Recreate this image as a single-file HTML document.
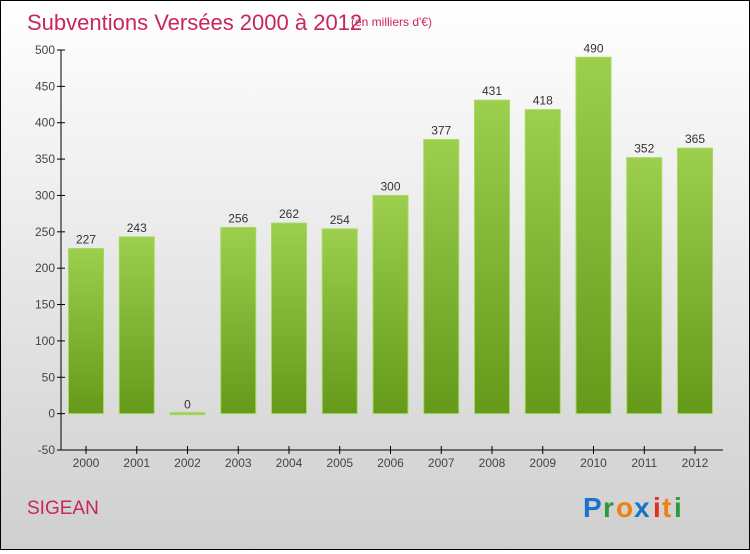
<!DOCTYPE html>
<html><head><meta charset="utf-8"><style>
body{margin:0;width:750px;height:550px;overflow:hidden}
#c{position:relative;width:748px;height:548px;border:1px solid #000;background:linear-gradient(#fff,#cfcfcf)}
text{font-family:"Liberation Sans",sans-serif}
</style></head><body>
<div id="c">
<svg id="s" width="748" height="548">
<defs><linearGradient id="g" x1="0" y1="0" x2="0" y2="1"><stop offset="0" stop-color="#9ccf4e"/><stop offset="1" stop-color="#64991a"/></linearGradient></defs>
<text x="26" y="29" font-size="22" fill="#c8265a">Subventions Versées 2000 à 2012</text>
<text x="350" y="25" font-size="12" fill="#c8265a">(en milliers d'€)</text>
<text x="26" y="513" font-size="19" fill="#c8265a">SIGEAN</text>
<g font-size="28" font-weight="bold">
<text x="582" y="516" fill="#1a73c8">P</text><text x="602" y="516" fill="#2a9a3a">r</text><text x="615" y="516" fill="#f08010">o</text><text x="633" y="516" fill="#1a73c8">x</text><text x="652" y="516" fill="#e03020">i</text><text x="661" y="516" fill="#f08010">t</text><text x="673" y="516" fill="#2a9a3a">i</text>
</g>
<g id="plot"></g>
</svg></div>
<script>
const years=["2000","2001","2002","2003","2004","2005","2006","2007","2008","2009","2010","2011","2012"];
const values=[227,243,0,256,262,254,300,377,431,418,490,352,365];
const ticks=[-50,0,50,100,150,200,250,300,350,400,450,500];
const NS="http://www.w3.org/2000/svg",p=document.getElementById('plot');
const y0=449,y1=49,vmin=-50,vmax=500;
const Y=v=>y0-(v-vmin)/(vmax-vmin)*(y0-y1);
const X=i=>85+i*50.75;
function mk(t,a,txt){const e=document.createElementNS(NS,t);for(const k in a)e.setAttribute(k,a[k]);if(txt!=null)e.textContent=txt;p.appendChild(e);return e;}
let e;
e=mk('line',{x1:60,y1:y1,x2:60,y2:y0,stroke:'#000'});

e=mk('line',{x1:60,y1:y0,x2:722,y2:y0,stroke:'#000'});

ticks.forEach(t=>{const y=Y(t);
e=mk('line',{x1:56,y1:y,x2:64,y2:y,stroke:'#000'});

e=mk('text',{x:54,y:y+4,'font-size':12,fill:'#444','text-anchor':'end'},t);
});
years.forEach((yr,i)=>{const x=X(i),v=values[i];
e=mk('line',{x1:x,y1:y0-4,x2:x,y2:y0+4,stroke:'#000'});

e=mk('text',{x:x,y:y0+17,'font-size':12,fill:'#444','text-anchor':'middle'},yr);

const top=Y(Math.max(v,0)),h=Math.max(Y(0)-top,2);
e=mk('rect',{x:x-17.5,y:v>0?top:Y(0)-1,width:35,height:h,fill:v>0?'url(#g)':'#9ccf4e',stroke:'#a8d860','stroke-width':1});

e=mk('text',{x:x,y:top-5,'font-size':12,fill:'#333','text-anchor':'middle'},v);
});
</script></body></html>
